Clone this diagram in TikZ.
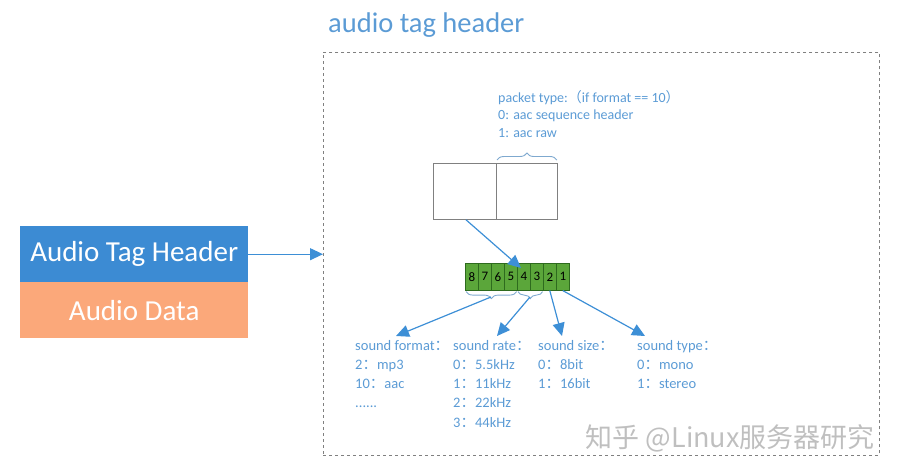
\documentclass[tikz,border=0pt]{standalone}
\usepackage{fontspec}
\setmainfont{Carlito}
\newfontfamily\cjk{Noto Sans CJK SC}
\usetikzlibrary{arrows.meta,decorations.pathreplacing}
\definecolor{txtblue}{HTML}{5B9BD5}
\definecolor{arrblue}{HTML}{3D8FD6}
\definecolor{hdrblue}{HTML}{3C8BD3}
\definecolor{datorange}{HTML}{FBA87A}
\definecolor{bitgreen}{HTML}{5BA63A}
\definecolor{bitborder}{HTML}{2E6B1E}
\definecolor{boxgrey}{HTML}{808080}
\definecolor{bracecol}{HTML}{7FA9CF}
\newcommand{\fc}{{\cjk ：}}
\tikzset{
  bigbox/.style={draw=none, minimum width=228pt, minimum height=56pt, inner sep=0pt, text=white, font=\fontsize{29}{32}\selectfont},
  fieldbox/.style={draw=boxgrey, line width=0.8pt, minimum height=56pt, inner sep=0pt},
  bitbox/.style={draw=bitborder, fill=bitgreen, line width=0.6pt, minimum width=13pt, minimum height=27pt, inner sep=0pt, font=\fontsize{13}{14}\selectfont},
  arr/.style={draw=arrblue, line width=1.2pt, -{Triangle[length=13pt,width=12pt]}},
  bracestyle/.style={draw=bracecol, line width=0.9pt, decorate, decoration={brace, amplitude=7pt}},
  lbl/.style={text=txtblue, align=left, inner sep=0pt, anchor=base west, font=\fontsize{14.5}{19.3}\selectfont},
}
\begin{document}
\begin{tikzpicture}[x=1pt,y=-1pt]
\useasboundingbox (0,0) rectangle (897,473);
% title and dashed frame
\node[text=txtblue, font=\fontsize{28.5}{32}\selectfont, anchor=base west, inner sep=0pt] (title) at (328,33) {audio tag header};
\node[draw=boxgrey, dashed, line width=0.7pt, minimum width=556pt, minimum height=403pt, inner sep=0pt, anchor=north west] (frame) at (323,52) {};
% left boxes
\node[bigbox, fill=hdrblue, anchor=north west] (hdr) at (20,226) {Audio Tag Header};
\node[bigbox, fill=datorange, anchor=north west] (dat) at (20,282) {Audio Data};
\draw[arr] (hdr.east) -- (hdr.east -| frame.west);
% two field boxes
\node[fieldbox, minimum width=63pt, anchor=north west] (f1) at (433,163) {};
\node[fieldbox, minimum width=61pt, anchor=north west] (f2) at (496,163) {};
\draw[bracestyle] ([xshift=1pt,yshift=3pt]f2.north west) -- ([xshift=-1pt,yshift=3pt]f2.north east);
\node[lbl, font=\fontsize{14}{17.5}\selectfont] (ptype) at (498,137.5) {packet type:{\cjk （}if format == 10{\cjk ）}\\0: aac sequence header\\1: aac raw};
% bits
\foreach \n [count=\i from 0] in {8,7,6,5,4,3,2,1}{
  \node[bitbox, anchor=north west] (b\n) at (465+13*\i,263) {\n};
}
\draw[arr] ([xshift=33pt]f1.south west) -- ([xshift=4pt,yshift=-5pt]b4.north west);
% braces below bits
\draw[bracestyle] ([xshift=-1pt,yshift=-1pt]b5.south east) -- ([xshift=1pt,yshift=-1pt]b8.south west);
\draw[bracestyle] ([xshift=-1pt,yshift=-1pt]b3.south east) -- ([xshift=1pt,yshift=-1pt]b4.south west);
\coordinate (br1) at (491,297);
\coordinate (br2) at (530,297);
% labels
\node[lbl] (fmt) at (355,407.9) {sound format\fc\\2\fc mp3\\10\fc aac\\......};
\node[lbl] (rate) at (453,427.2) {sound rate\fc\\0\fc 5.5kHz\\1\fc 11kHz\\2\fc 22kHz\\3\fc 44kHz};
\node[lbl] (size) at (538,388.6) {sound size\fc\\0\fc 8bit\\1\fc 16bit};
\node[lbl] (type) at (637,388.6) {sound type\fc\\0\fc mono\\1\fc stereo};
\coordinate (fmtT) at (396,336);
\coordinate (rateT) at (497,336);
\coordinate (sizeT) at (562,336);
\coordinate (typeT) at (645,336);
\draw[arr] (br1) -- (fmtT);
\draw[arr] (br2) -- (rateT);
\draw[arr] (b2.south) -- (sizeT);
\draw[arr] (b1.south) -- (typeT);
% watermark
\node[text=black!25, font=\cjk\fontsize{27}{30}\selectfont, anchor=base east, inner sep=0pt] (wm) at (875,447) {知乎 @Linux服务器研究};
\end{tikzpicture}
\end{document}
